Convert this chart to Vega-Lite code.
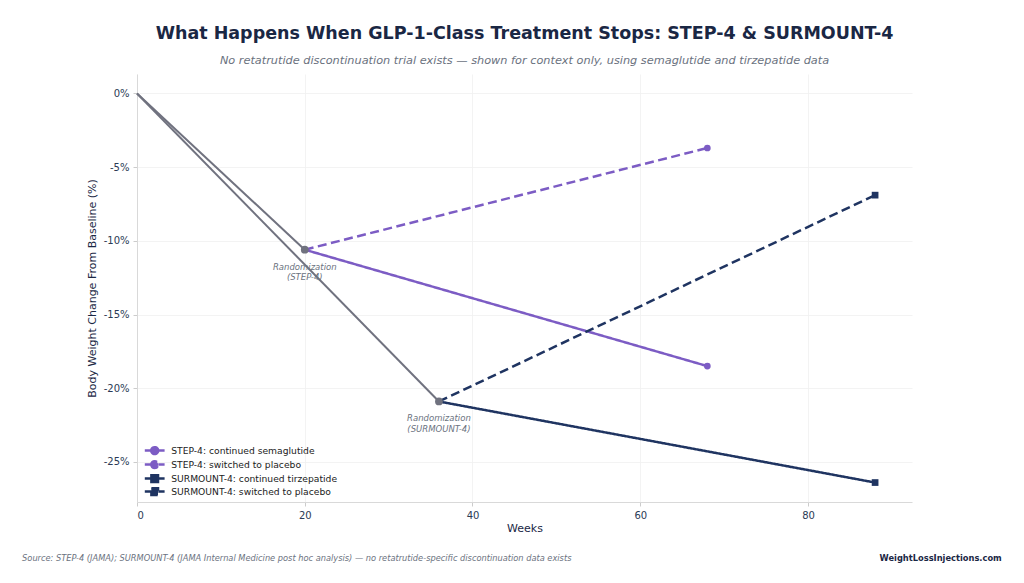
{
  "$schema": "https://vega.github.io/schema/vega-lite/v6.json",
  "width": 775,
  "height": 428,
  "autosize": {"type": "none"},
  "padding": {"left": 137, "top": 74, "right": 112, "bottom": 81},
  "background": "white",
  "title": {
    "text": "What Happens When GLP-1-Class Treatment Stops: STEP-4 & SURMOUNT-4",
    "subtitle": "No retatrutide discontinuation trial exists \u2014 shown for context only, using semaglutide and tirzepatide data",
    "anchor": "middle",
    "frame": "group",
    "font": "DejaVu Sans",
    "fontSize": 17.5,
    "fontWeight": "bold",
    "color": "#1a2744",
    "subtitleFont": "DejaVu Sans",
    "subtitleFontSize": 11.3,
    "subtitleFontStyle": "italic",
    "subtitleColor": "#6b7280",
    "subtitlePadding": 12,
    "offset": 8
  },
  "config": {
    "view": {"stroke": null},
    "font": "DejaVu Sans",
    "axis": {
      "labelFont": "DejaVu Sans",
      "labelFontSize": 10,
      "labelColor": "#2b3a55",
      "titleFont": "DejaVu Sans",
      "titleFontSize": 11,
      "titleFontWeight": "normal",
      "titleColor": "#1a2744",
      "gridColor": "#f0f0f0",
      "gridWidth": 0.8,
      "domainColor": "#d9d9d9",
      "tickColor": "#cccccc",
      "tickSize": 4
    }
  },
  "datasets": {
    "leadin": [
      {"trial": "STEP-4", "week": 0, "change": 0},
      {"trial": "STEP-4", "week": 20, "change": -10.6},
      {"trial": "SURMOUNT-4", "week": 0, "change": 0},
      {"trial": "SURMOUNT-4", "week": 36, "change": -20.9}
    ],
    "arms": [
      {"series": "STEP-4: continued semaglutide", "trial": "STEP-4", "week": 20, "change": -10.6},
      {"series": "STEP-4: continued semaglutide", "trial": "STEP-4", "week": 68, "change": -18.5},
      {"series": "STEP-4: switched to placebo", "trial": "STEP-4", "week": 20, "change": -10.6},
      {"series": "STEP-4: switched to placebo", "trial": "STEP-4", "week": 68, "change": -3.7},
      {"series": "SURMOUNT-4: continued tirzepatide", "trial": "SURMOUNT-4", "week": 36, "change": -20.9},
      {"series": "SURMOUNT-4: continued tirzepatide", "trial": "SURMOUNT-4", "week": 88, "change": -26.4},
      {"series": "SURMOUNT-4: switched to placebo", "trial": "SURMOUNT-4", "week": 36, "change": -20.9},
      {"series": "SURMOUNT-4: switched to placebo", "trial": "SURMOUNT-4", "week": 88, "change": -6.9}
    ],
    "randomization": [
      {"label": "Randomization\n(STEP-4)", "week": 20, "change": -10.6},
      {"label": "Randomization\n(SURMOUNT-4)", "week": 36, "change": -20.9}
    ],
    "footer": [
      {"text": "Source: STEP-4 (JAMA); SURMOUNT-4 (JAMA Internal Medicine post hoc analysis) \u2014 no retatrutide-specific discontinuation data exists", "side": "left"},
      {"text": "WeightLossInjections.com", "side": "right"}
    ]
  },
  "layer": [
    {
      "data": {"name": "leadin"},
      "mark": {"type": "line", "color": "#70727f", "strokeWidth": 2},
      "encoding": {
        "x": {
          "field": "week", "type": "quantitative",
          "scale": {"domain": [0, 92.4], "nice": false, "zero": false},
          "axis": {"title": "Weeks", "values": [0, 20, 40, 60, 80], "titlePadding": 2, "labelPadding": 4}
        },
        "y": {
          "field": "change", "type": "quantitative",
          "scale": {"domain": [-27.72, 1.32], "nice": false, "zero": false},
          "axis": {
            "title": "Body Weight Change From Baseline (%)",
            "values": [-25, -20, -15, -10, -5, 0],
            "labelExpr": "datum.value + '%'",
            "titlePadding": 6,
            "labelPadding": 4
          }
        },
        "detail": {"field": "trial"}
      }
    },
    {
      "data": {"name": "arms"},
      "mark": {"type": "line", "strokeWidth": 2.5},
      "encoding": {
        "x": {"field": "week", "type": "quantitative"},
        "y": {"field": "change", "type": "quantitative"},
        "color": {
          "field": "series", "type": "nominal",
          "scale": {
            "domain": ["STEP-4: continued semaglutide", "STEP-4: switched to placebo", "SURMOUNT-4: continued tirzepatide", "SURMOUNT-4: switched to placebo"],
            "range": ["#7c5cc4", "#7c5cc4", "#1f3461", "#1f3461"]
          },
          "legend": {
            "title": null,
            "orient": "bottom-left",
            "offset": 2,
            "labelFont": "DejaVu Sans",
            "labelFontSize": 9.2,
            "labelColor": "#222222",
            "labelLimit": 400,
            "symbolSize": 36,
            "symbolStrokeWidth": 2.5,
            "labelOffset": 23,
            "rowPadding": -8,
            "padding": 0,
            "encode": {
              "symbols": {
                "update": {
                  "shape": {"signal": "indexof(datum.value, 'STEP') == 0 ? 'M0.4,0L7,0M2.55,0a1.15,1.15 0 1,0 2.3,0a1.15,1.15 0 1,0 -2.3,0Z' : 'M0.4,0L7,0M2.6,-1.1h2.2v2.2h-2.2Z'"},
                  "fill": {"signal": "scale('color', datum.value)"},
                  "strokeDash": {"signal": "indexof(datum.value, 'placebo') >= 0 ? [5, 3] : [1, 0]"},
                  "opacity": {"value": 1}
                }
              }
            }
          }
        },
        "strokeDash": {
          "field": "series", "type": "nominal",
          "scale": {
            "domain": ["STEP-4: continued semaglutide", "STEP-4: switched to placebo", "SURMOUNT-4: continued tirzepatide", "SURMOUNT-4: switched to placebo"],
            "range": [[1, 0], [9, 4.5], [1, 0], [9, 4.5]]
          }
        }
      }
    },
    {
      "data": {"name": "arms"},
      "transform": [{"filter": "datum.week == 68"}],
      "mark": {"type": "point", "shape": "circle", "filled": true, "opacity": 1, "size": 45},
      "encoding": {
        "x": {"field": "week", "type": "quantitative"},
        "y": {"field": "change", "type": "quantitative"},
        "color": {"field": "series", "type": "nominal"}
      }
    },
    {
      "data": {"name": "arms"},
      "transform": [{"filter": "datum.week == 88"}],
      "mark": {"type": "point", "shape": "square", "filled": true, "opacity": 1, "size": 45},
      "encoding": {
        "x": {"field": "week", "type": "quantitative"},
        "y": {"field": "change", "type": "quantitative"},
        "color": {"field": "series", "type": "nominal"}
      }
    },
    {
      "data": {"name": "randomization"},
      "mark": {"type": "point", "shape": "circle", "filled": true, "opacity": 1, "size": 60, "color": "#70727f"},
      "encoding": {
        "x": {"field": "week", "type": "quantitative"},
        "y": {"field": "change", "type": "quantitative"}
      }
    },
    {
      "data": {"name": "randomization"},
      "mark": {"type": "text", "font": "DejaVu Sans", "fontSize": 8.5, "fontStyle": "italic", "color": "#6b7280", "align": "center", "baseline": "middle", "lineBreak": "\n", "lineHeight": 10.5, "dy": 17},
      "encoding": {
        "x": {"field": "week", "type": "quantitative"},
        "y": {"field": "change", "type": "quantitative"},
        "text": {"field": "label"}
      }
    },
    {
      "data": {"name": "footer"},
      "transform": [{"filter": "datum.side == 'left'"}],
      "mark": {"type": "text", "font": "DejaVu Sans", "fontSize": 8.25, "fontStyle": "italic", "color": "#6b7280", "align": "left", "baseline": "middle"},
      "encoding": {
        "x": {"datum": -13.7, "type": "quantitative"},
        "y": {"datum": -31.6, "type": "quantitative"},
        "text": {"field": "text"}
      }
    },
    {
      "data": {"name": "footer"},
      "transform": [{"filter": "datum.side == 'right'"}],
      "mark": {"type": "text", "font": "DejaVu Sans", "fontSize": 8.3, "fontWeight": "bold", "color": "#1a2744", "align": "right", "baseline": "middle"},
      "encoding": {
        "x": {"datum": 103.1, "type": "quantitative"},
        "y": {"datum": -31.6, "type": "quantitative"},
        "text": {"field": "text"}
      }
    }
  ]
}
